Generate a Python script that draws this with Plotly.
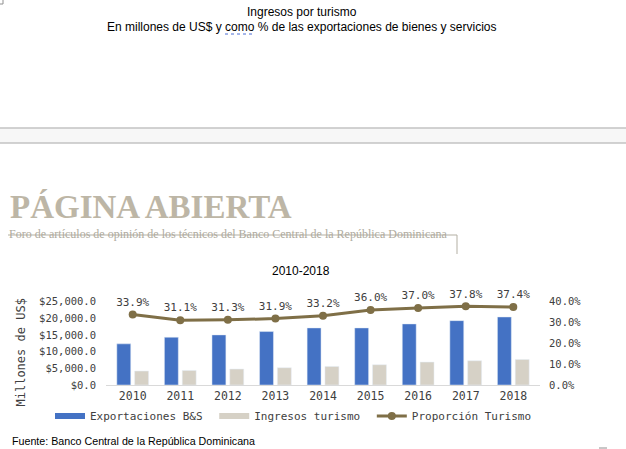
import plotly.graph_objects as go

# data
years = ["2010", "2011", "2012", "2013", "2014", "2015", "2016", "2017", "2018"]
exportaciones = [12350, 14340, 15040, 16040, 17130, 17130, 18330, 19320, 20420]
turismo = [4180, 4380, 4780, 5180, 5580, 6080, 6870, 7270, 7670]
proporcion = [0.339, 0.311, 0.313, 0.319, 0.332, 0.360, 0.370, 0.378, 0.374]

W, H = 626, 449
mono = "DejaVu Sans Mono"
tick_col = "#404040"
blue, tan, olive = "#4472C4", "#D6D1C6", "#7F6F47"
nb = "\u00a0"


def px(x):
    return x / W


def py(y):
    return 1 - y / H


fig = go.Figure()
fig.add_trace(go.Bar(x=years, y=exportaciones, name="Exportaciones B&S",
                     marker_color=blue, showlegend=False))
fig.add_trace(go.Bar(x=years, y=turismo, name="Ingresos turismo",
                     marker_color=tan, showlegend=False))
# wide flat swatches like the original legend
fig.add_trace(go.Scatter(x=[None], y=[None], mode="lines", name="Exportaciones B&S" + nb,
                         line=dict(color=blue, width=6)))
fig.add_trace(go.Scatter(x=[None], y=[None], mode="lines", name="Ingresos turismo" + nb,
                         line=dict(color=tan, width=6)))
fig.add_trace(go.Scatter(x=years, y=proporcion, name="Proporción Turismo", yaxis="y2",
                         mode="lines+markers+text", line=dict(color=olive, width=3),
                         marker=dict(size=8, color=olive),
                         text=[f"{v*100:.1f}%" for v in proporcion],
                         textposition="top center", cliponaxis=False,
                         textfont=dict(family=mono, size=11, color=tick_col)))

fig.update_layout(
    width=W, height=H, margin=dict(l=0, r=0, t=0, b=0, pad=0, autoexpand=False),
    paper_bgcolor="white", plot_bgcolor="white",
    barmode="group", bargap=0.25, bargroupgap=0.22,
    font=dict(family=mono, size=11, color=tick_col),
    xaxis=dict(domain=[px(106), px(540)], showgrid=False, showline=True, automargin=False,
               linecolor="#D9D9D9", linewidth=1, ticks="",
               anchor="y", tickfont=dict(family=mono, size=11.5, color=tick_col)),
    yaxis=dict(domain=[py(385), py(301.7)], range=[0, 25000], dtick=5000, automargin=False,
               tickformat="$,.1f", showgrid=False, zeroline=False,
               ticklabelstandoff=9, tickfont=dict(family=mono, size=10.5, color=tick_col)),
    yaxis2=dict(overlaying="y", side="right", range=[0, 0.40], dtick=0.10, automargin=False,
                tickformat=".1%", showgrid=False, zeroline=False,
                ticklabelstandoff=8, tickfont=dict(family=mono, size=10.5, color=tick_col)),
    legend=dict(orientation="h", x=px(50), y=py(416), xanchor="left", yanchor="middle",
                font=dict(family=mono, size=11, color=tick_col), traceorder="normal",
                bgcolor="rgba(0,0,0,0)"),
    showlegend=True,
)

sans = "Liberation Sans"
serif = "Liberation Serif"
notes = [
    dict(text="Ingresos por turismo", x=px(302), y=py(12), size=12, fam=sans, col="black", xa="center"),
    dict(text="En millones de US$ y como % de las exportaciones de bienes y servicios",
         x=px(301.5), y=py(27), size=12, fam=sans, col="black", xa="center"),
    dict(text="<b>PÁGINA ABIERTA</b>", x=px(8), y=py(207), size=33, fam=serif, col="#BDB6A6", xa="left"),
    dict(text="Foro de artículos de opinión de los técnicos del Banco Central de la República Dominicana",
         x=px(7), y=py(234), size=12, fam=serif, col="#AEAA9D", xa="left"),
    dict(text="2010-2018", x=px(301), y=py(271), size=12, fam=sans, col="black", xa="center"),
    dict(text="Fuente: Banco Central de la República Dominicana", x=px(10), y=py(441),
         size=10.7, fam=sans, col="black", xa="left"),
]
for n in notes:
    fig.add_annotation(text=n["text"], x=n["x"], y=n["y"], xref="paper", yref="paper",
                       xanchor=n["xa"], yanchor="middle", showarrow=False,
                       font=dict(family=n["fam"], size=n["size"], color=n["col"]))

fig.add_annotation(text="Millones de US$", x=px(20), y=py(352.5), xref="paper", yref="paper",
                   xanchor="center", yanchor="middle", textangle=-90, showarrow=False,
                   font=dict(family=mono, size=12, color=tick_col))

# page decorations: grey band, rule under the subtitle, spellcheck squiggle, corner marks
fig.add_shape(type="rect", xref="paper", yref="paper", x0=0, x1=1, y0=py(143), y1=py(128),
              fillcolor="#F7F7F7", line=dict(width=0), layer="below")
for yy in (128, 143):
    fig.add_shape(type="line", xref="paper", yref="paper", x0=0, x1=1, y0=py(yy), y1=py(yy),
                  line=dict(color="#C3C3C3", width=1.5))
segs = [
    ((8, 235), (457, 235), "#B3AFA3"),
    ((457, 235), (457, 254), "#B3AFA3"),
    ((0, 4), (3, 4), "#909090"),
    ((3, 0), (3, 4), "#909090"),
    ((599, 448), (607, 448), "#909090"),
]
for (xa, ya), (xb, yb), c in segs:
    fig.add_shape(type="line", xref="paper", yref="paper", x0=px(xa), x1=px(xb),
                  y0=py(ya), y1=py(yb), line=dict(color=c, width=1))
fig.add_shape(type="line", xref="paper", yref="paper", x0=px(225), x1=px(254),
              y0=py(34), y1=py(34), line=dict(color="#4A6CD4", width=1, dash="dot"))

# the page's default body margin would push the figure 8px down and right
fig.write_html("out.html", config={"displayModeBar": False},
               post_script="document.body.style.margin='0';")
